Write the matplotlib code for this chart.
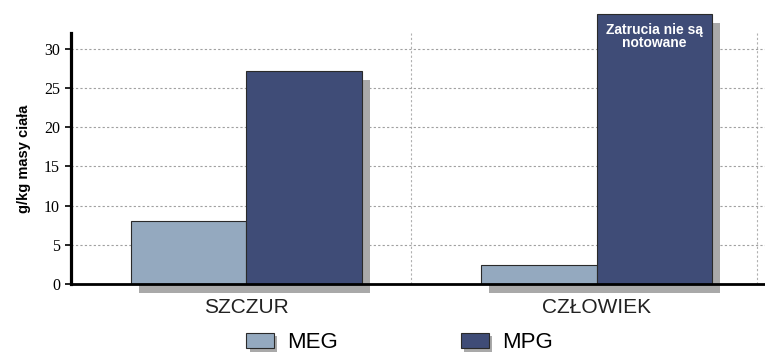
import numpy as np
import matplotlib
matplotlib.use("Agg")
import matplotlib.pyplot as plt
import matplotlib.patheffects as pe
from matplotlib.transforms import ScaledTranslation

# data
categories = ["SZCZUR", "CZŁOWIEK"]
series = ["MEG", "MPG"]
meg = [8.1, 2.4]
mpg = [27.2, 34.4]
y_ticks = [0, 5, 10, 15, 20, 25, 30]
note = "Zatrucia nie są\nnotowane"

colors = {"MEG": "#94a9bf", "MPG": "#3f4c77"}
shadow_col = "#a9a9a9"

fig = plt.figure(figsize=(7.65, 3.56), dpi=100)
ax = fig.add_axes([0.0928, 0.2022, 0.9072, 0.7048])

x = np.arange(len(categories))
w = 0.33

# shadow, shifted right and down by a few pixels
shift = ax.transData + ScaledTranslation(8 / 100, -9 / 100, fig.dpi_scale_trans)
for vals, off in ((meg, -w / 2), (mpg, w / 2)):
    ax.bar(x + off, vals, w, color=shadow_col, linewidth=0,
           transform=shift, clip_on=False, zorder=1)

bars_meg = ax.bar(x - w / 2, meg, w, color=colors["MEG"], edgecolor="#2a2a2a",
                  linewidth=0.8, clip_on=False, zorder=2, label="MEG")
bars_mpg = ax.bar(x + w / 2, mpg, w, color=colors["MPG"], edgecolor="#2a2a2a",
                  linewidth=0.8, clip_on=False, zorder=2, label="MPG")

# note on the tall bar
ax.annotate(note, xy=(x[1] + w / 2, mpg[1]), xytext=(0, -6),
            textcoords="offset points", ha="center", va="top",
            color="white", fontsize=10, fontweight="bold",
            family="Liberation Sans", linespacing=0.95, zorder=3,
            annotation_clip=False)

ax.set_xlim(-0.5, 1.48)
ax.set_ylim(0, 32)

ax.set_yticks(y_ticks)
ax.set_yticklabels([str(t) for t in y_ticks], family="Liberation Serif",
                   fontsize=11.5)
ax.tick_params(axis="y", length=4, width=1.2, pad=4)

ax.set_xticks(x)
ax.set_xticklabels(categories, family="Liberation Sans", fontsize=15,
                   color="#222222")
ax.tick_params(axis="x", length=0, pad=10)

ax.set_xticks([0.47, 1.456], minor=True)
ax.tick_params(axis="x", which="minor", length=0)

ax.set_axisbelow(True)
ax.yaxis.grid(True, color="#a0a0a0", linestyle=(0, (2, 2)), linewidth=0.8)
ax.xaxis.grid(True, which="minor", color="#b0b0b0", linestyle=(0, (2, 2)),
              linewidth=0.8)

for s in ("top", "right"):
    ax.spines[s].set_visible(False)
ax.spines["left"].set_linewidth(2.3)
ax.spines["bottom"].set_linewidth(2.0)
ax.spines["bottom"].set_zorder(4)

ax.set_ylabel("g/kg masy ciała", family="Liberation Sans", fontsize=10.5,
              fontweight="bold", labelpad=9)

leg = ax.legend(handles=[bars_meg, bars_mpg], labels=series, loc="center",
                bbox_to_anchor=(0.522, 0.037), bbox_transform=fig.transFigure,
                ncol=2, frameon=False, handlelength=1.25, handleheight=0.7,
                handletextpad=0.58, columnspacing=5.55, borderpad=0,
                prop={"family": "Liberation Sans", "size": 16})
for h in leg.legend_handles:
    h.set_path_effects([pe.SimplePatchShadow(offset=(2.5, -2.5),
                                             shadow_rgbFace=shadow_col, alpha=1),
                        pe.Normal()])

fig.savefig("out.png", dpi=100)
